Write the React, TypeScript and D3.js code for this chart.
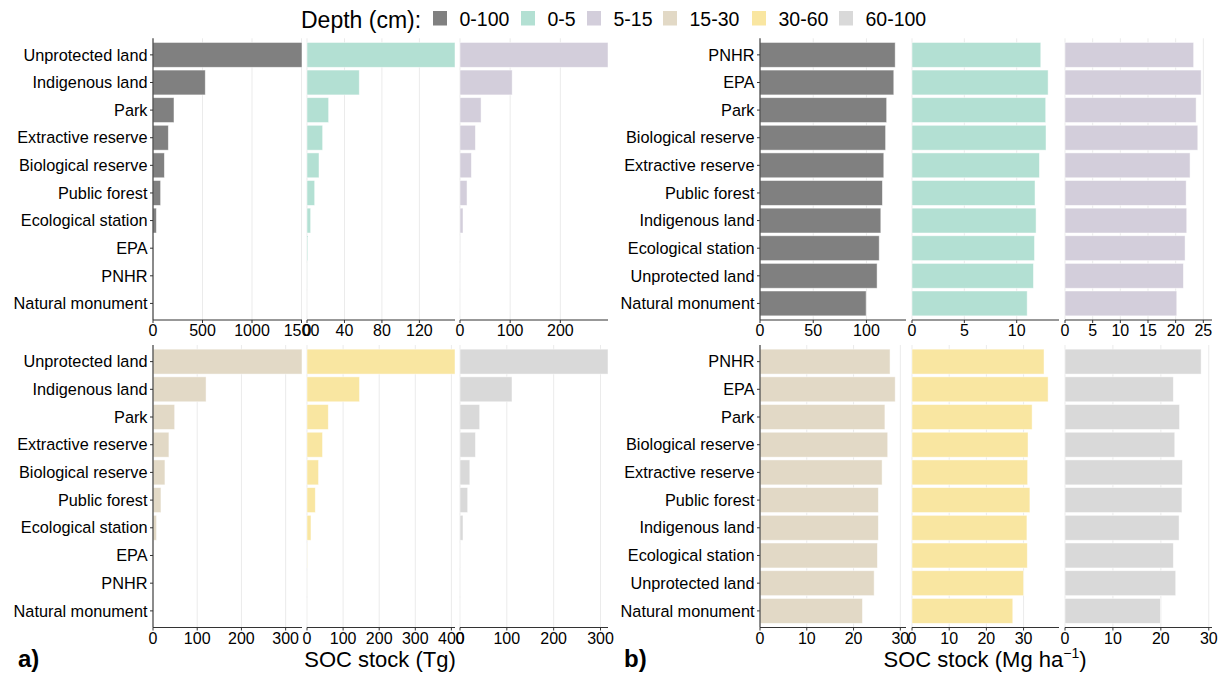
import * as d3 from 'd3';

// categories (top to bottom)
const areasTg = ['Unprotected land', 'Indigenous land', 'Park', 'Extractive reserve', 'Biological reserve', 'Public forest', 'Ecological station', 'EPA', 'PNHR', 'Natural monument'];
const areasMg = ['PNHR', 'EPA', 'Park', 'Biological reserve', 'Extractive reserve', 'Public forest', 'Indigenous land', 'Ecological station', 'Unprotected land', 'Natural monument'];

const depths = ['0-100', '0-5', '5-15', '15-30', '30-60', '60-100'];
const depthColors = ['#808080', '#b3e0d3', '#d3cedb', '#e2d9c6', '#f9e6a1', '#d9d9d9'];

// a) SOC stock (Tg), same order as areasTg
const tg0_100 = [1505, 528, 212, 155, 115, 77, 34, 2, 0.5, 0.2];
const tg0_5 = [158, 55.8, 23.1, 16.7, 12.8, 8.2, 3.9, 0.9, 0.1, 0.02];
const tg5_15 = [295, 104, 42, 30.7, 22.7, 14, 6, 0.5, 0.1, 0.03];
const tg15_30 = [337, 120, 49, 36, 27, 18, 8, 0.5, 0.1, 0.03];
const tg30_60 = [410, 145.5, 59, 43, 32, 23, 11, 0.6, 0.1, 0.03];
const tg60_100 = [316, 111, 42, 33, 21, 16.4, 6.4, 0.4, 0.1, 0.03];

// b) SOC stock (Mg ha-1), same order as areasMg
const mg0_100 = [127, 125.7, 119, 118, 116.3, 115, 113.5, 112, 110, 99.7];
const mg0_5 = [12.3, 13.0, 12.77, 12.8, 12.17, 11.75, 11.85, 11.7, 11.6, 11.0];
const mg5_15 = [23.25, 24.6, 23.7, 24.0, 22.6, 21.9, 22.0, 21.7, 21.4, 20.2];
const mg15_30 = [27.8, 28.9, 26.7, 27.3, 26.1, 25.3, 25.3, 25.1, 24.4, 21.9];
const mg30_60 = [35.5, 36.6, 32.3, 31.2, 31.1, 31.7, 30.9, 31.0, 30.0, 27.1];
const mg60_100 = [28.4, 22.6, 23.9, 22.9, 24.5, 24.4, 23.8, 22.6, 23.1, 19.9];

// x ticks per panel
const ticksTg = [[0, 500, 1000, 1500], [0, 40, 80, 120], [0, 100, 200], [0, 100, 200, 300], [0, 100, 200, 300, 400], [0, 100, 200, 300]];
const ticksMg = [[0, 50, 100], [0, 5, 10], [0, 5, 10, 15, 20, 25], [0, 10, 20, 30], [0, 10, 20, 30], [0, 10, 20, 30]];

const FONT = '"Liberation Sans", Arial, sans-serif';

const rowsY: [number, number][] = [[38.3, 320], [345, 627.5]];
const colsA: [number, number][] = [[153, 302], [307, 455], [460, 608]];
const colsB: [number, number][] = [[760, 906], [912, 1059], [1065, 1212]];

type Panel = {
	values: number[];
	cats: string[];
	color: string;
	ticks: number[];
	xr: [number, number];
	yr: [number, number];
	max: number;
	first: boolean;
};

const buildPanels = () => {
	const tg = [tg0_100, tg0_5, tg5_15, tg15_30, tg30_60, tg60_100];
	const mg = [mg0_100, mg0_5, mg5_15, mg15_30, mg30_60, mg60_100];
	const out: Panel[] = [];
	tg.forEach((v, i) => {
		out.push({
			values: v,
			cats: areasTg,
			color: depthColors[i],
			ticks: ticksTg[i],
			xr: colsA[i % 3],
			yr: rowsY[Math.floor(i / 3)],
			max: d3.max(v) as number,
			first: i % 3 === 0,
		});
	});
	mg.forEach((v, i) => {
		out.push({
			values: v,
			cats: areasMg,
			color: depthColors[i],
			ticks: ticksMg[i],
			xr: colsB[i % 3],
			yr: rowsY[Math.floor(i / 3)],
			max: (d3.max(v) as number) * 1.08,
			first: i % 3 === 0,
		});
	});
	return out;
};

const PanelView = ({ p }: { p: Panel }) => {
	const x = d3.scaleLinear().domain([0, p.max]).range(p.xr);
	const y = d3.scaleBand<string>().domain(p.cats).range(p.yr).paddingInner(0.1).paddingOuter(0.15);
	const [y0, y1] = p.yr;
	return (
		<g>
			{p.ticks.map((t) => (
				<line key={'g' + t} x1={x(t)} x2={x(t)} y1={y0} y2={y1} stroke="#ebebeb" strokeWidth={1} />
			))}
			{p.values.map((v, i) => (
				<rect
					key={p.cats[i]}
					x={x(0)}
					y={y(p.cats[i])}
					width={Math.max(0, x(v) - x(0))}
					height={y.bandwidth()}
					fill={p.color}
					stroke="#ffffff"
					strokeOpacity={0.6}
					strokeWidth={0.8}
				/>
			))}
			<line x1={p.xr[0]} x2={p.xr[1]} y1={y1} y2={y1} stroke="#333" strokeWidth={1.1} />
			{p.ticks.map((t) => (
				<g key={'t' + t}>
					<line x1={x(t)} x2={x(t)} y1={y1} y2={y1 + 3} stroke="#333" />
					<text x={x(t)} y={y1 + 16} textAnchor="middle" fontSize={16} fontFamily={FONT} fill="#000">
						{t}
					</text>
				</g>
			))}
			{p.first && (
				<g>
					<line x1={p.xr[0]} x2={p.xr[0]} y1={y0} y2={y1} stroke="#333" strokeWidth={1.1} />
					{p.cats.map((c) => {
						const cy = (y(c) as number) + y.bandwidth() / 2;
						return (
							<g key={'c' + c}>
								<line x1={p.xr[0] - 3} x2={p.xr[0]} y1={cy} y2={cy} stroke="#333" />
								<text x={p.xr[0] - 5.5} y={cy + 5.7} textAnchor="end" fontSize={16.3} fontFamily={FONT} fill="#000">
									{c}
								</text>
							</g>
						);
					})}
				</g>
			)}
		</g>
	);
};

const Legend = () => {
	const keyX = [433, 521, 587, 663, 752, 839];
	return (
		<g fontFamily={FONT}>
			<text x={301} y={27.5} fontSize={23} fill="#000">Depth (cm):</text>
			{depths.map((d, i) => (
				<g key={d}>
					<rect x={keyX[i]} y={11} width={14} height={14.5} fill={depthColors[i]} />
					<text x={keyX[i] + 26.5} y={25.7} fontSize={19.5} fill="#000">{d}</text>
				</g>
			))}
		</g>
	);
};

export default function App() {
	const panels = buildPanels();
	return (
		<svg width={1229} height={675} style={{ display: 'block', position: 'absolute', left: 0, top: 0, background: '#fff' }}>
			<rect width={1229} height={675} fill="#fff" />
			<Legend />
			{panels.map((p, i) => (
				<PanelView key={i} p={p} />
			))}
			<text x={380} y={667} textAnchor="middle" fontSize={22} fontFamily={FONT} fill="#000">SOC stock (Tg)</text>
			<text x={985} y={667} textAnchor="middle" fontSize={22} fontFamily={FONT} fill="#000">
				SOC stock (Mg ha<tspan dy={-9} fontSize={14}>−1</tspan><tspan dy={9}>)</tspan>
			</text>
			<text x={18} y={667} fontSize={24} fontWeight="bold" fontFamily={FONT} fill="#000">a)</text>
			<text x={624} y={667} fontSize={24} fontWeight="bold" fontFamily={FONT} fill="#000">b)</text>
		</svg>
	);
}
